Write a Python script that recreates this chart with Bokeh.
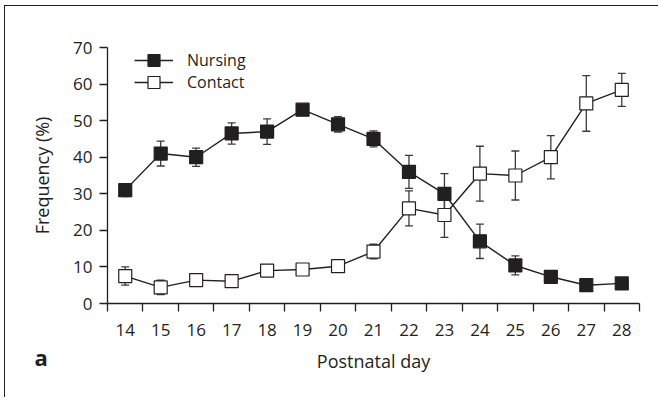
from bokeh.plotting import figure
from bokeh.models import Range1d, FixedTicker, Legend, LegendItem, Label, ColumnDataSource
from bokeh.embed import file_html
from bokeh.resources import INLINE

# ---- data ----
days = list(range(14, 29))
tick_labels = [str(d) for d in days]
nursing = [31, 41, 40, 46.5, 47, 53, 49, 45, 36, 30, 17, 10.4, 7.3, 5, 5.5]
nursing_err = [1.8, 3.4, 2.5, 2.9, 3.5, 1.2, 2.1, 2.2, 4.5, 5.5, 4.7, 2.6, 1.0, 0.8, 0.8]
contact = [7.5, 4.4, 6.4, 6.1, 9, 9.3, 10.2, 14.2, 26, 24.2, 35.5, 35, 40, 54.7, 58.4]
contact_err = [2.5, 2.0, 1.0, 1.0, 1.0, 1.0, 1.0, 2.0, 4.8, 6.1, 7.5, 6.7, 5.9, 7.6, 4.5]
y_ticks = [0, 10, 20, 30, 40, 50, 60, 70]

INK = "#231f20"
ERR = "#3a3a3a"
FONT = "Open Sans"

p = figure(width=654, height=392, output_backend="svg", toolbar_location=None,
           x_range=Range1d(13.5, 28.5), y_range=Range1d(0, 70),
           min_border_left=102, min_border_right=20, min_border_top=41, min_border_bottom=95,
           styles={"border-top": "1.5px solid #231f20", "border-left": "1.5px solid #231f20",
                   "margin-left": "4px", "margin-top": "5px"})
p.outline_line_color = None
p.xgrid.grid_line_color = None
p.ygrid.grid_line_color = None
p.background_fill_color = "white"
p.border_fill_color = "white"

# x axis: labels at day centres, ticks at boundaries
xa = p.xaxis[0]
xa.ticker = FixedTicker(ticks=days, minor_ticks=[d - 0.5 for d in days] + [28.5])
xa.major_label_overrides = {d: s for d, s in zip(days, tick_labels)}
xa.major_tick_line_color = None
xa.major_tick_out = 8
xa.major_tick_in = 0
xa.minor_tick_line_color = INK
xa.minor_tick_line_width = 1.3
xa.minor_tick_out = 8
xa.minor_tick_in = 0
xa.major_label_standoff = 12
xa.axis_label = "Postnatal day"
xa.axis_label_standoff = 10

ya = p.yaxis[0]
ya.ticker = FixedTicker(ticks=y_ticks, minor_ticks=[])
ya.major_tick_out = 8
ya.major_tick_in = 0
ya.major_tick_line_color = INK
ya.major_tick_line_width = 1.3
ya.major_label_standoff = 7
ya.axis_label = "Frequency (%)"
ya.axis_label_standoff = 16

for ax in (xa, ya):
    ax.axis_line_color = INK
    ax.axis_line_width = 1.3
    ax.major_label_text_font = FONT
    ax.major_label_text_font_size = "17px"
    ax.major_label_text_color = INK
    ax.axis_label_text_font = FONT
    ax.axis_label_text_font_size = "18px"
    ax.axis_label_text_font_style = "normal"
    ax.axis_label_text_color = INK

src_n = ColumnDataSource(dict(x=days, y=nursing,
                              lo=[v - e for v, e in zip(nursing, nursing_err)],
                              hi=[v + e for v, e in zip(nursing, nursing_err)]))
src_c = ColumnDataSource(dict(x=days, y=contact,
                              lo=[v - e for v, e in zip(contact, contact_err)],
                              hi=[v + e for v, e in zip(contact, contact_err)]))

for src in (src_n, src_c):
    p.segment(x0="x", y0="lo", x1="x", y1="hi", source=src, line_color=ERR, line_width=1.3)
    p.scatter(x="x", y="lo", source=src, marker="dash", size=8, line_color=ERR, line_width=1.3)
    p.scatter(x="x", y="hi", source=src, marker="dash", size=8, line_color=ERR, line_width=1.3)

ln_n = p.line(x="x", y="y", source=src_n, line_color=INK, line_width=1.4)
ln_c = p.line(x="x", y="y", source=src_c, line_color=INK, line_width=1.4)
mk_n = p.scatter(x="x", y="y", source=src_n, marker="square", size=13,
                 fill_color=INK, line_color=INK, line_width=1.2)
mk_c = p.scatter(x="x", y="y", source=src_c, marker="square", size=13,
                 fill_color="white", line_color=INK, line_width=1.2)

legend_kw = dict(glyph_width=39, glyph_height=30, spacing=0,
                 label_standoff=14, padding=0, margin=0,
                 border_line_color=None, background_fill_alpha=0,
                 label_text_font=FONT, label_text_font_size="16px", label_text_color=INK)
p.add_layout(Legend(items=[LegendItem(label="Nursing", renderers=[ln_n, mk_n])],
                    location=(27, 228), **legend_kw))
p.add_layout(Legend(items=[LegendItem(label="Contact", renderers=[ln_c, mk_c])],
                    location=(27, 206), **legend_kw))

p.add_layout(Label(x=11.44, y=-14.7, text="a", text_font=FONT, text_font_size="22px",
                   text_font_style="bold", text_color=INK, text_baseline="alphabetic"),
             "left")

open("out.html", "w").write(file_html(p, INLINE))
